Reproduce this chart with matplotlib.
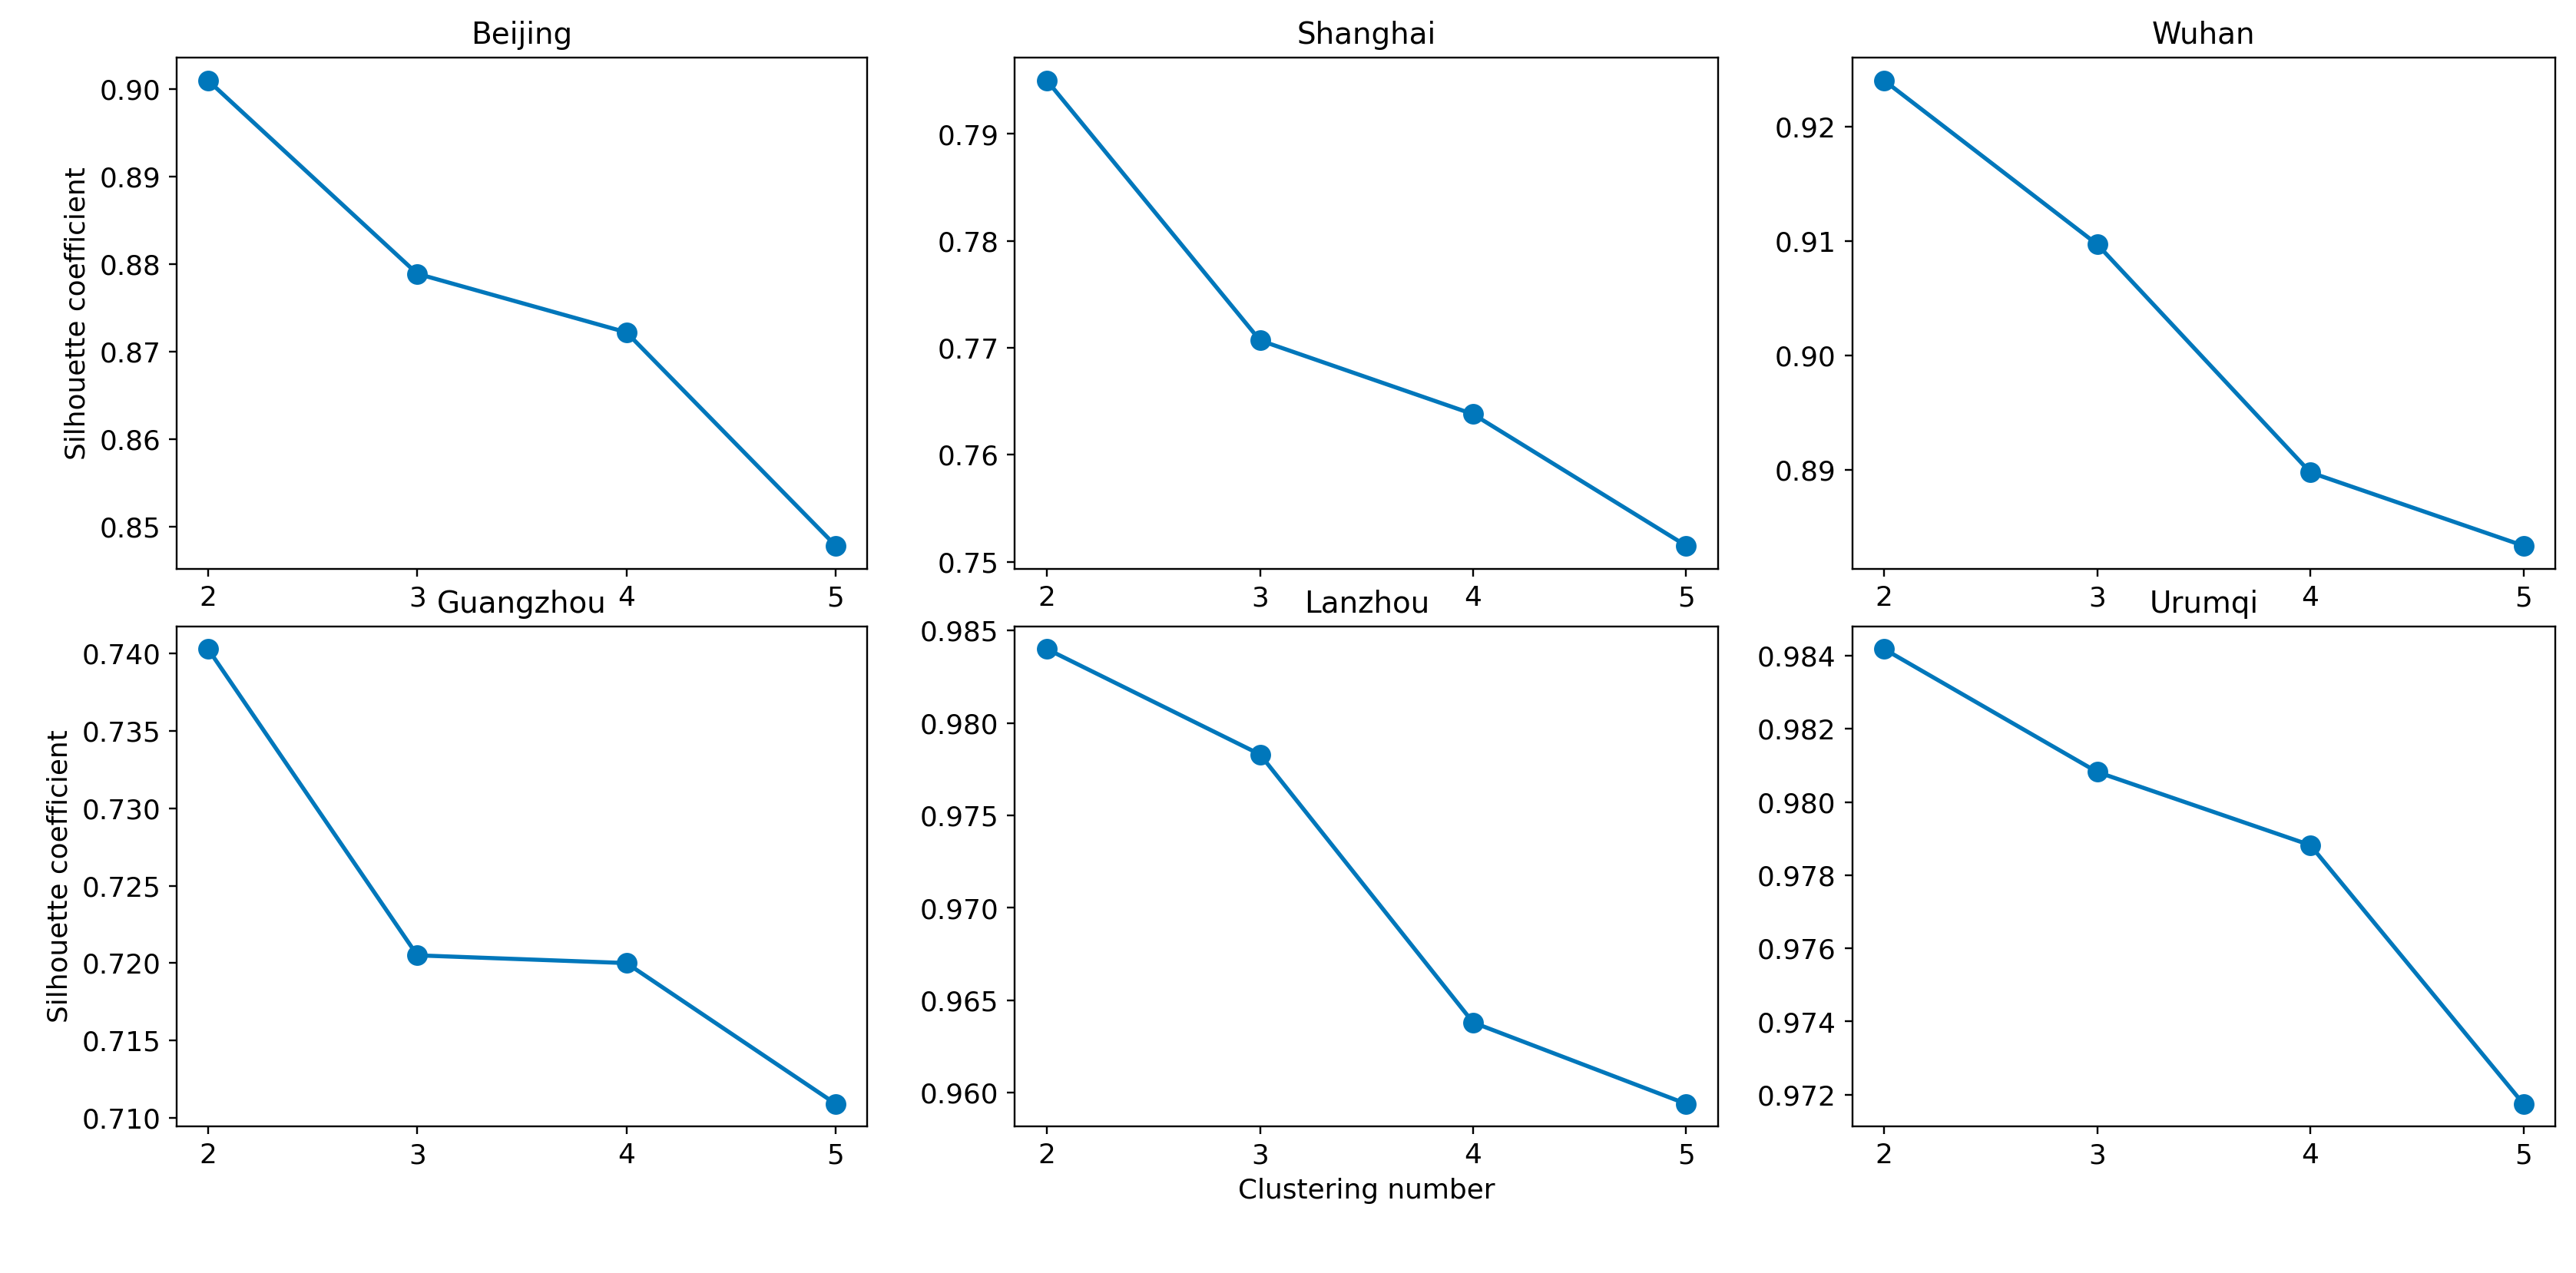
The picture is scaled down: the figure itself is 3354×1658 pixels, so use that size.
import matplotlib
matplotlib.use("Agg")
import matplotlib.pyplot as plt
from matplotlib.ticker import MultipleLocator

clusters = [2, 3, 4, 5]
cities = ["Beijing", "Shanghai", "Wuhan", "Guangzhou", "Lanzhou", "Urumqi"]
beijing = [0.9010, 0.8789, 0.8722, 0.8478]
shanghai = [0.7950, 0.7707, 0.7638, 0.7515]
wuhan = [0.9240, 0.9097, 0.8898, 0.8834]
guangzhou = [0.7403, 0.7205, 0.7200, 0.7109]
lanzhou = [0.9840, 0.9783, 0.9638, 0.9594]
urumqi = [0.98418, 0.98082, 0.97882, 0.97175]
series = [beijing, shanghai, wuhan, guangzhou, lanzhou, urumqi]

plt.rcParams['font.size'] = 12
fig = plt.figure(figsize=(15.6, 7.712), dpi=215)
lefts = [0.0686, 0.394, 0.719]
widths = [0.268, 0.273, 0.273]
rows = [(0.553, 0.402), (0.115, 0.393)]
color = '#0077BB'
for i, (name, vals) in enumerate(zip(cities, series)):
    r, c = divmod(i, 3)
    ax = fig.add_axes([lefts[c], rows[r][0], widths[c], rows[r][1]])
    ax.plot(clusters, vals, marker='o', color=color, markersize=8, linewidth=1.8)
    ax.set_title(name, fontsize=13)
    ax.set_xticks(clusters)
    if name == "Wuhan":
        ax.yaxis.set_major_locator(MultipleLocator(0.01))
    if c == 0:
        ax.set_ylabel("Silhouette coefficient")
    if r == 1 and c == 1:
        ax.set_xlabel("Clustering number")
fig.savefig("out.png", dpi=215)
